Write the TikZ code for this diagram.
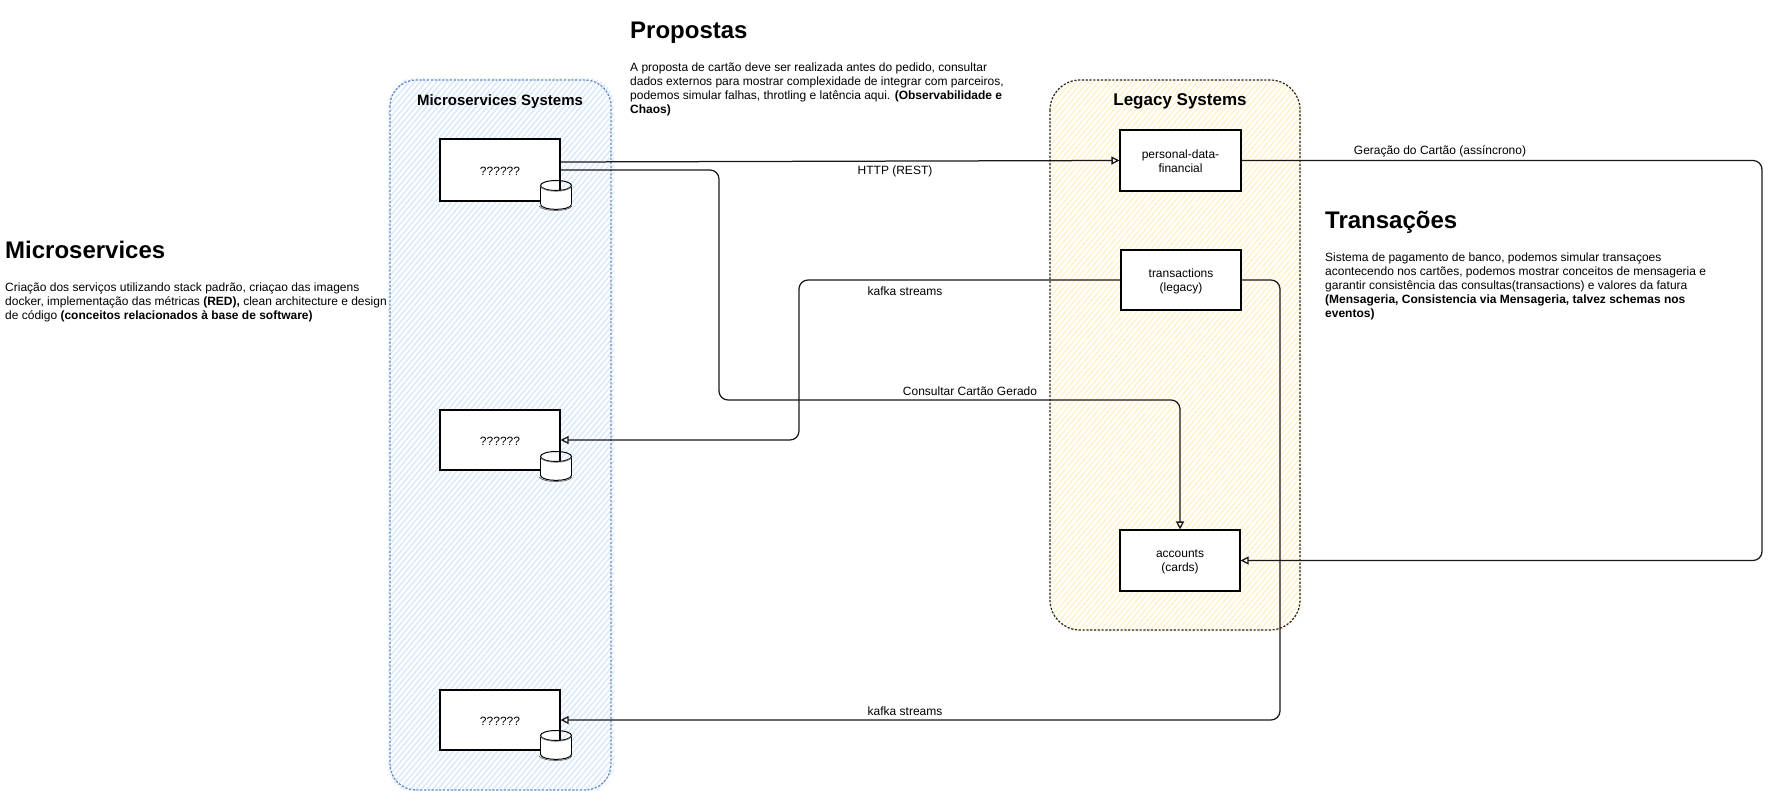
\documentclass[tikz,border=0pt]{standalone}
\usepackage{fontspec}
\setmainfont{Liberation Sans}
\usetikzlibrary{arrows.meta}
\tikzset{
  px/.style={x=1pt,y=-1pt},
  svcbox/.style={rectangle,draw=black,line width=1.1pt,fill=white,inner sep=0pt,
    minimum width=120pt,minimum height=60pt,
    preaction={draw=black!50,line width=.8pt,transform canvas={shift={(.6pt,-.6pt)}}}},
  boxtext/.style={font=\fontsize{12}{14}\selectfont,align=center,inner sep=0pt,yshift=-1.1pt},
  conn/.style={line width=1.25pt,rounded corners=9pt,draw=black!90},
  tip/.style={-{Triangle[length=8pt,width=8pt,fill=white,line width=1.3pt]}},
  blabel/.style={font=\fontsize{12}{14}\selectfont,inner sep=0pt},
  heading/.style={font=\fontsize{24}{28}\selectfont\bfseries,inner sep=0pt,anchor=west},
  bodytext/.style={font=\fontsize{12}{14}\selectfont,inner sep=0pt,anchor=north west,align=left},
  dbline/.style={draw=black,line width=1pt},
  pics/dbicon/.style={code={
    \path[fill=white] (-15.5,-9.5) -- (-15.5,9.5) arc[x radius=15.5,y radius=5,start angle=180,end angle=0,y=1pt]
       -- (15.5,-9.5) arc[x radius=15.5,y radius=5,start angle=0,end angle=180,y=1pt] -- cycle;
    \draw[dbline] (-15.5,-9.5) -- (-15.5,9.5);
    \draw[dbline] (15.5,-9.5) -- (15.5,9.5);
    \draw[dbline] (0,-9.5) ellipse[x radius=15.5,y radius=5];
    \draw[dbline] (-15.5,9.5) .. controls (-14,16) and (14,16) .. (15.5,9.5);
    \draw[black!60,line width=.7pt] (-16,-9) .. controls (-12,-2) and (12,-2) .. (16,-9);
    \draw[black!60,line width=.7pt] (-17,11) .. controls (-13,17) and (13,17) .. (16,11);
  }},
}
\definecolor{hblue}{HTML}{DAE8FC}
\definecolor{sblue}{HTML}{6C8EBF}
\definecolor{hyellow}{HTML}{FFF2CC}
\begin{document}
\begin{tikzpicture}[px]
\useasboundingbox (0,0) rectangle (1769,791);
% containers
\begin{scope}
  \clip[rounded corners=26pt] (388,78) rectangle (614,792);
  \foreach \x in {-220,-214.5,...,620}
    \draw[hblue,line width=1.5pt] (\x,800) -- ++(620,-740);
\end{scope}
\draw[sblue,line width=1.3pt,dash pattern=on 2.2pt off 1.6pt,rounded corners=26pt] (390,80) rectangle (611,790);
\begin{scope}
  \clip[rounded corners=30pt] (1050,80) rectangle (1302,632);
  \foreach \x in {570,575.5,...,1310}
    \draw[hyellow,line width=1.5pt] (\x,640) -- ++(500,-596);
\end{scope}
\draw[black!85,line width=1.2pt,dash pattern=on 2.2pt off 1.6pt,rounded corners=30pt] (1050,80) rectangle (1300,630);
% service nodes
\node[svcbox,minimum height=62pt,label={[boxtext]center:??????}] (m1) at (500,170) {};
\node[svcbox,label={[boxtext]center:??????}] (m2) at (500,440) {};
\node[svcbox,label={[boxtext]center:??????}] (m3) at (500,720) {};
\node[svcbox,minimum height=61pt,minimum width=121pt,label={[boxtext]center:personal-data-\\financial}] (p) at (1180.5,160.5) {};
\node[svcbox,label={[boxtext]center:transactions\\(legacy)}] (t) at (1181,280) {};
\node[svcbox,minimum height=61pt,label={[boxtext]center:accounts\\(cards)}] (a) at (1180,560.5) {};
% databases
\pic at (556,195) {dbicon};
\pic at (556,466) {dbicon};
\pic at (556,745) {dbicon};
% bends
\coordinate (b1) at (719,170);
\coordinate (b2) at (719,400);
\coordinate (b3) at (1180,400);
\coordinate (b4) at (799,280);
\coordinate (b5) at (799,440);
\coordinate (b6) at (1280,280);
\coordinate (b7) at (1280,720);
\coordinate (b8) at (1762,160.5);
\coordinate (b9) at (1762,560.5);
% connectors
\draw[conn,tip] ([yshift=8pt]m1.east) -- (p.west);
\draw[conn,tip] (m1.east) -- (b1) -- (b2) -- (b3) -- (a.north);
\draw[conn,tip] (t.west) -- (b4) -- (b5) -- (m2.east);
\draw[conn,tip] (t.east) -- (b6) -- (b7) -- (m3.east);
\draw[conn,tip] (p.east) -- (b8) -- (b9) -- (a.east);
% labels
\node[blabel] (l1) at (895,171) {HTTP (REST)};
\node[blabel] (l2) at (1440,151.5) {Geração do Cartão (assíncrono)};
\node[blabel] (l3) at (905,291) {kafka streams};
\node[blabel] (l4) at (905,711) {kafka streams};
\node[blabel] (l5) at (970,391) {Consultar Cartão Gerado};
\node[font=\fontsize{15}{18}\selectfont\bfseries,inner sep=0pt] (g1) at (500,101.5) {Microservices Systems};
\node[font=\fontsize{17}{20}\selectfont\bfseries,inner sep=0pt] (g2) at (1180,101) {Legacy Systems};
% text blocks
\node[heading] (h1) at (630,33) {Propostas};
\node[bodytext] (t1) at (630,63) {A proposta de cartão deve ser realizada antes do pedido, consultar\\dados externos para mostrar complexidade de integrar com parceiros,\\podemos simular falhas, throtling e latência aqui. \textbf{(Observabilidade e}\\\textbf{Chaos)}};
\node[heading] (h2) at (5,250) {Microservices};
\node[bodytext] (t2) at (5,283) {Criação dos serviços utilizando stack padrão, criaçao das imagens\\docker, implementação das métricas \textbf{(RED),} clean architecture e design\\de código \textbf{(conceitos relacionados à base de software)}};
\node[heading] (h3) at (1325,222) {Transações};
\node[bodytext] (t3) at (1325,253) {Sistema de pagamento de banco, podemos simular transaçoes\\acontecendo nos cartões, podemos mostrar conceitos de mensageria e\\garantir consistência das consultas(transactions) e valores da fatura\\\textbf{(Mensageria, Consistencia via Mensageria, talvez schemas nos}\\\textbf{eventos)}};
\end{tikzpicture}
\end{document}
